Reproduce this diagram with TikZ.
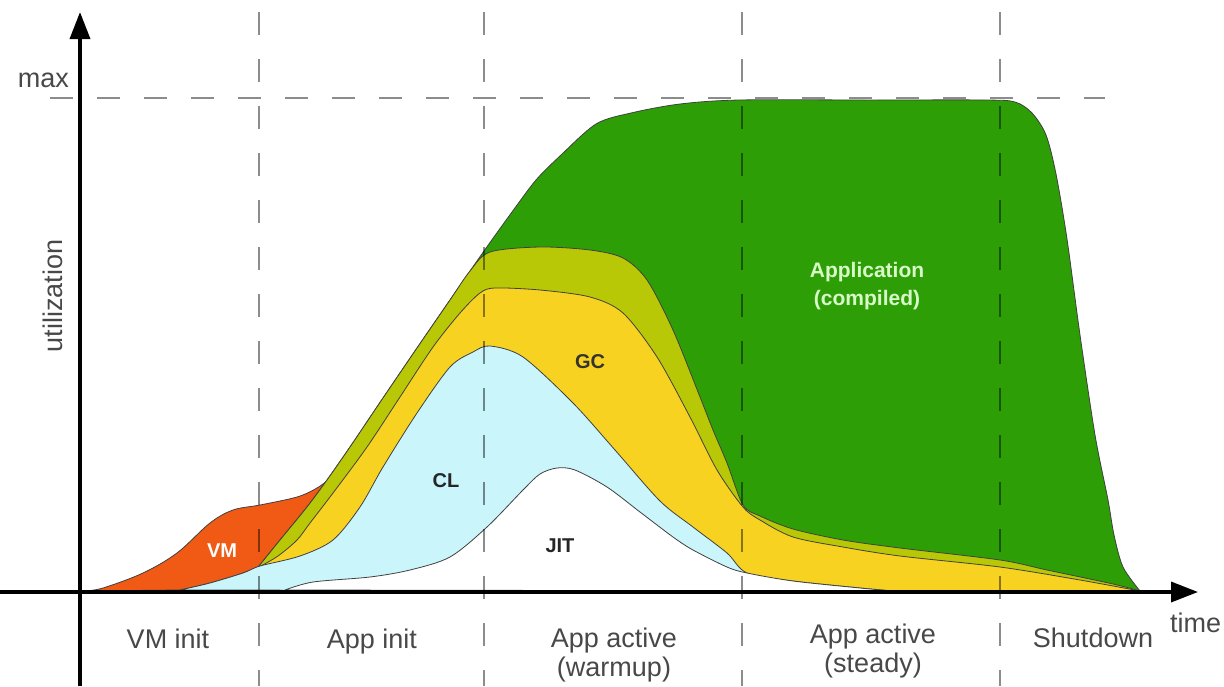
\documentclass[tikz,border=0pt]{standalone}
\usepackage{fontspec}
\setmainfont{Liberation Sans}
\usetikzlibrary{arrows.meta}

\definecolor{appgreen}{RGB}{46,158,6}
\definecolor{limeband}{RGB}{184,200,6}
\definecolor{gcyellow}{RGB}{248,210,32}
\definecolor{clblue}{RGB}{201,245,251}
\definecolor{vmorange}{RGB}{240,90,20}
\definecolor{labelgray}{RGB}{72,72,72}
\definecolor{applabel}{RGB}{215,250,200}

\begin{document}
\begin{tikzpicture}[x=1pt, y=-1pt,
  layer/.style={draw=black!75, line width=0.8pt, line join=round},
  guide/.style={draw=black, draw opacity=0.45, line width=1.6pt, dash pattern=on 23pt off 24pt},
  axisline/.style={line width=3.5pt, -{Triangle[length=27pt,width=20pt]}},
  phase/.style={font=\fontsize{27}{29}\selectfont, text=labelgray, inner sep=0pt},
  tag/.style={font=\fontsize{20}{24}\selectfont\bfseries, inner sep=0pt}]

\useasboundingbox (0,0) rectangle (1224,686);

% VM start-up load
\filldraw[layer, fill=vmorange]
  plot[smooth, tension=0.55] coordinates {(84,591) (103,588) (143,573) (177,553) (210,523) (233,510) (260,505) (297,497) (317,488) (332,477)}
  -- (346,470) -- (300,575) --
  plot[smooth, tension=0.55] coordinates {(260,566) (243,573) (210,583) (180,590)} -- cycle;

% compiled application code
\filldraw[layer, fill=appgreen]
  plot[smooth, tension=0.5] coordinates {(259,566) (280,540) (307,507) (327,480) (350,447) (383,398) (417,348) (450,300) (484,251) (512,212) (536,180) (560,156) (596,124) (631,113) (680,104) (740,100) (870,100) (985,100) (1015,102) (1032,113) (1046,135) (1056,174) (1067,239) (1080,335) (1095,435) (1108,500) (1114,535) (1123,567) (1140,591)}
  -- (259,592) -- cycle;

% interpreted application code
\filldraw[layer, fill=limeband]
  plot[smooth, tension=0.5] coordinates {(259,566) (280,540) (307,507) (327,480) (350,447) (383,398) (417,348) (450,300) (470,271) (490,252) (540,247) (590,250) (623,258) (647,280) (673,330) (700,397) (713,430) (727,463) (743,505) (760,516) (793,529) (843,540) (900,548) (1000,560) (1047,570) (1113,584) (1140,591)}
  -- (259,592) -- cycle;

% garbage collection
\filldraw[layer, fill=gcyellow]
  plot[smooth, tension=0.5] coordinates {(259,567) (278,556) (297,540) (310,523) (333,493) (367,447) (400,397) (433,347) (460,313) (480,293) (495,288) (540,290) (590,297) (623,313) (657,357) (690,417) (717,470) (743,507) (760,520) (793,537) (843,547) (900,556) (1000,567) (1080,580) (1140,591)}
  -- (259,592) -- cycle;

% class loading
\filldraw[layer, fill=clblue]
  plot[smooth, tension=0.5] coordinates {(180,590) (210,583) (243,573) (260,566) (300,556) (333,540) (360,507) (383,467) (417,413) (450,367) (473,352) (490,346) (523,357) (573,403) (615,450) (660,501) (693,527) (727,553) (747,573) (793,581) (860,588) (893,591)}
  -- cycle;

% JIT compiler
\filldraw[layer, fill=white]
  plot[smooth, tension=0.5] coordinates {(285,590) (313,582) (370,577) (410,570) (450,557) (487,527) (523,490) (540,474) (557,468) (575,470) (607,487) (640,512) (673,537) (693,550) (727,567) (747,573) (793,581) (860,588) (893,591)}
  -- cycle;

% phase boundaries and the maximum level
\coordinate (g1t) at (259,12);  \coordinate (g1b) at (259,686);
\coordinate (g2t) at (484,12);  \coordinate (g2b) at (484,686);
\coordinate (g3t) at (742,12);  \coordinate (g3b) at (742,686);
\coordinate (g4t) at (1000,12); \coordinate (g4b) at (1000,686);
\coordinate (maxl) at (50,98);  \coordinate (maxr) at (1105,98);
\draw[guide] (g1t) -- (g1b);
\draw[guide] (g2t) -- (g2b);
\draw[guide] (g3t) -- (g3b);
\draw[guide] (g4t) -- (g4b);
\draw[guide] (maxl) -- (maxr);

% axes
\coordinate (ybot) at (80,686);  \coordinate (ytop) at (80,12);
\coordinate (xleft) at (0,592);  \coordinate (xright) at (1198,592);
\draw[axisline] (ybot) -- (ytop);
\draw[axisline] (xleft) -- (xright);

% axis labels
\node[phase, anchor=base east] (maxlbl) at (69,87) {max};
\node[phase, anchor=base, rotate=90] (ylbl) at (62,296) {utilization};
\node[phase, anchor=base west] (xlbl) at (1170,632) {time};

% phase names
\node[phase, anchor=base] (ph1) at (168,648) {VM init};
\node[phase, anchor=base] (ph2) at (372,648) {App init};
\node[phase, anchor=base] (ph3a) at (614,647) {App active};
\node[phase, anchor=base] (ph3b) at (614,676) {(warmup)};
\node[phase, anchor=base] (ph4a) at (873,643) {App active};
\node[phase, anchor=base] (ph4b) at (873,672) {(steady)};
\node[phase, anchor=base] (ph5) at (1093,647) {Shutdown};

% area labels
\node[tag, text=white] (vmlbl) at (222,551) {VM};
\node[tag, text=black!85] (cllbl) at (446,481) {CL};
\node[tag, text=black!80] (gclbl) at (590,362) {GC};
\node[tag, text=black!85] (jitlbl) at (560,546) {JIT};
\node[tag, text=applabel, font=\fontsize{21}{28}\selectfont\bfseries, align=center] (applbl) at (867,286) {Application\\(compiled)};

\end{tikzpicture}
\end{document}
